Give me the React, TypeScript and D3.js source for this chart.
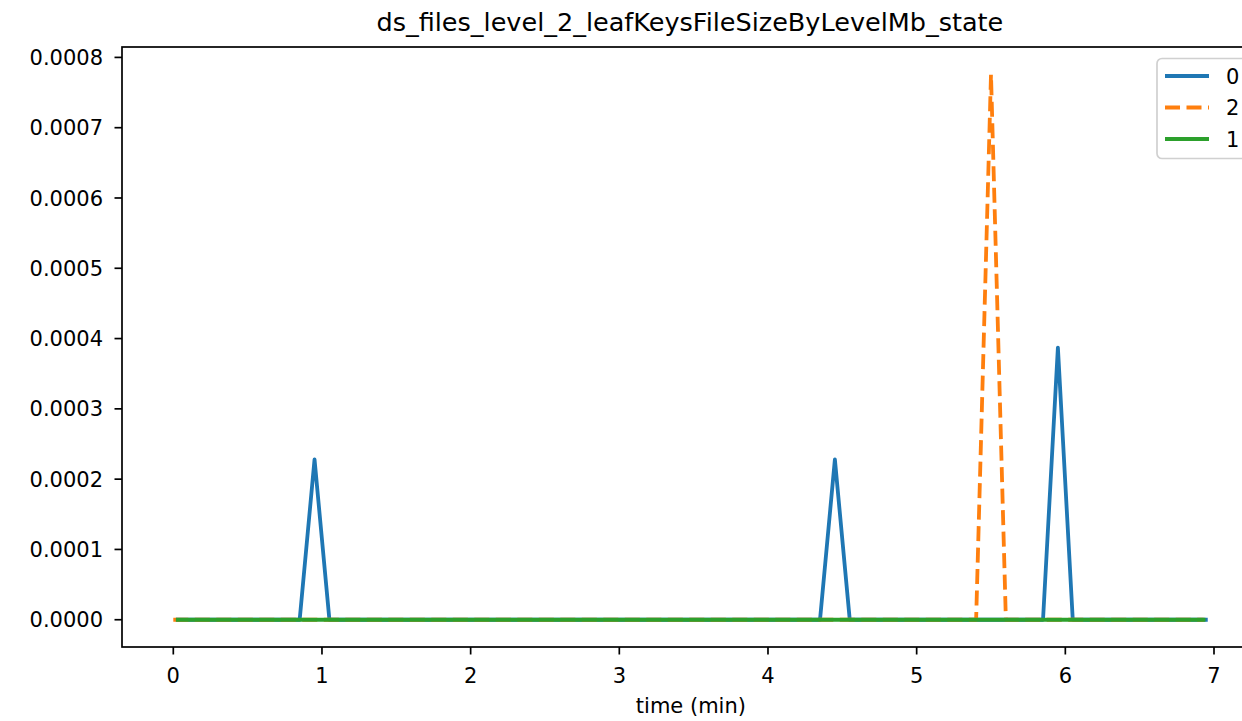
import React from "react";
import * as d3 from "d3";

const title = "ds_files_level_2_leafKeysFileSizeByLevelMb_state";
const xLabel = "time (min)";
const xTicks = [0, 1, 2, 3, 4, 5, 6, 7];
const yTicks = [0, 0.0001, 0.0002, 0.0003, 0.0004, 0.0005, 0.0006, 0.0007, 0.0008];

const series0X = [0.03, 0.85, 0.95, 1.05, 4.35, 4.45, 4.55, 5.85, 5.95, 6.05, 6.945];
const series0Y = [0, 0, 0.000228, 0, 0, 0.000228, 0, 0, 0.000387, 0, 0];
const series2X = [0, 5.4, 5.5, 5.6, 6.93];
const series2Y = [0, 0, 0.000776, 0, 0];
const series1X = [0.03, 6.93];
const series1Y = [0, 0];

const seriesNames = ["0", "2", "1"];
const colors = ["#1f77b4", "#ff7f0e", "#2ca02c"];

const W = 1242, H = 721;
const left = 122, top = 47, bottom = 647;
const FS = 21;
const LW = 3.8;

export default function App() {
  const xmin = 0, xmax = 6.96;
  const xpad = (xmax - xmin) * 0.05;
  const x = d3.scaleLinear().domain([0, 7]).range([173.3, 1214]);
  const right = x(xmax + xpad);
  const ymax = 0.000776;
  const ypad = ymax * 0.05;
  const y = d3.scaleLinear().domain([-ypad, ymax + ypad]).range([bottom, top]);
  const line = d3.line<[number, number]>().x(d => x(d[0])).y(d => y(d[1]));
  const data = [
    d3.zip(series0X, series0Y) as [number, number][],
    d3.zip(series2X, series2Y) as [number, number][],
    d3.zip(series1X, series1Y) as [number, number][],
  ];
  const dashes = [null, "15,6.5", null];
  const font = "DejaVu Sans, sans-serif";
  const fmt = d3.format(".4f");
  const lx = 1157, ly = 58.5;
  const rowY = [76, 107.5, 139];
  return (
    <svg width={W} height={H} style={{ position: "fixed", left: 0, top: 0, background: "#fff" }} fontFamily={font}>
      <rect x={0} y={0} width={W} height={H} fill="#fff" />
      <text x={(left + right) / 2 - 1} y={31} textAnchor="middle" fontSize={25.5} fill="#000">{title}</text>
      <defs>
        <clipPath id="clip"><rect x={left} y={top} width={right - left} height={bottom - top} /></clipPath>
      </defs>
      <g clipPath="url(#clip)">
        {data.map((d, i) => (
          <path key={i} d={line(d) || ""} fill="none" stroke={colors[i]} strokeWidth={LW}
            strokeDasharray={dashes[i] || undefined} strokeLinejoin="round" strokeLinecap={dashes[i] ? "butt" : "square"} />
        ))}
      </g>
      <rect x={left} y={top} width={right - left} height={bottom - top} fill="none" stroke="#000" strokeWidth={1.7} />
      {yTicks.map(t => (
        <g key={t}>
          <line x1={left - 7.5} x2={left} y1={y(t)} y2={y(t)} stroke="#000" strokeWidth={1.7} />
          <text x={left - 19} y={y(t)} dy="0.36em" textAnchor="end" fontSize={FS}>{fmt(t)}</text>
        </g>
      ))}
      {xTicks.map(t => (
        <g key={t}>
          <line x1={x(t)} x2={x(t)} y1={bottom} y2={bottom + 7.5} stroke="#000" strokeWidth={1.7} />
          <text x={x(t)} y={683} textAnchor="middle" fontSize={FS}>{t}</text>
        </g>
      ))}
      <text x={(left + right) / 2} y={713} textAnchor="middle" fontSize={FS}>{xLabel}</text>
      <g>
        <rect x={lx} y={ly} width={120} height={100} rx={5} fill="#fff" fillOpacity={0.8} stroke="#d0d0d0" strokeWidth={1.7} />
        {seriesNames.map((n, i) => (
          <g key={n}>
            <line x1={1165} x2={1209} y1={rowY[i]} y2={rowY[i]} stroke={colors[i]} strokeWidth={LW}
              strokeDasharray={dashes[i] || undefined} />
            <text x={1226} y={rowY[i]} dy="0.36em" fontSize={FS}>{n}</text>
          </g>
        ))}
      </g>
    </svg>
  );
}
